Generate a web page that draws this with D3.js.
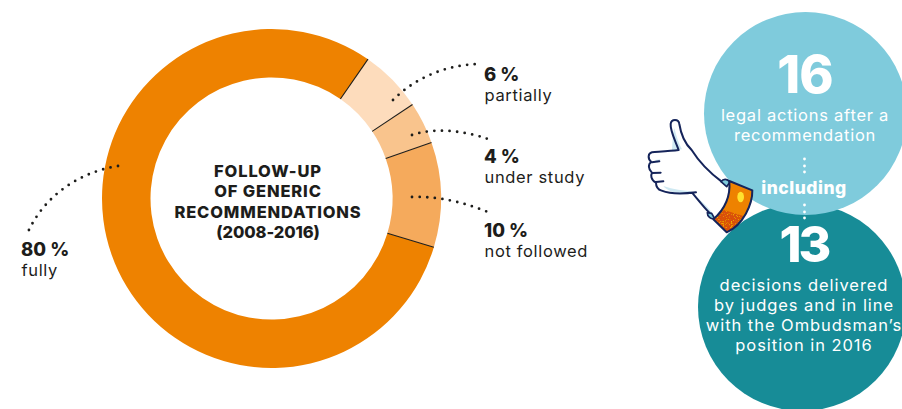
<!DOCTYPE html>
<html>
<head>
<meta charset="utf-8">
<script src="https://cdn.jsdelivr.net/npm/d3@7/dist/d3.min.js"></script>
<style>
  html, body { margin: 0; padding: 0; background: #fff; }
  svg { display: block; }
  text { font-family: Inter, "Noto Sans", sans-serif; }
</style>
</head>
<body>
<svg id="chart" width="902" height="409"></svg>
<script>
// Follow-up of generic recommendations, 2008-2016
const categories = ["partially", "under study", "not followed", "fully"];
const shares = [6, 4, 10, 80];
const sliceColors = ["#fddcbc", "#f9c48d", "#f5aa5c", "#ee8200"];
const titleLines = ["FOLLOW-UP", "OF GENERIC", "RECOMMENDATIONS", "(2008-2016)"];
const legalCount = 16;
const legalLines = ["legal actions after a", "recommendation"];
const joinWord = "including";
const decisionCount = 13;
const decisionLines = ["decisions delivered", "by judges and in line", "with the Ombudsman’s", "position in 2016"];

const svg = d3.select("#chart");
const ink = "#1d1d1b";
const navy = "#15245a";

// Speckle used on the lower part of the cuff
const speckle = svg.append("defs").append("filter").attr("id", "speckle")
  .attr("x", 0).attr("y", 0).attr("width", 1).attr("height", 1);
speckle.append("feTurbulence").attr("type", "fractalNoise").attr("baseFrequency", 0.5)
  .attr("numOctaves", 2).attr("seed", 4).attr("result", "noise");
speckle.append("feColorMatrix").attr("in", "noise").attr("type", "matrix")
  .attr("values", "0 0 0 0 0.93  0 0 0 0 0.51  0 0 0 0 0  0 0 0 -3 1.5").attr("result", "flecks");
speckle.append("feComposite").attr("in", "flecks").attr("in2", "SourceAlpha").attr("operator", "in").attr("result", "clipped");
const mergeNodes = speckle.append("feMerge");
mergeNodes.append("feMergeNode").attr("in", "SourceGraphic");
mergeNodes.append("feMergeNode").attr("in", "clipped");

// Donut
const cx = 271.5, cy = 198.5;
const pie = d3.pie().sort(null).value(d => d)
  .startAngle(34.7 * Math.PI / 180)
  .endAngle((360 + 34.7) * Math.PI / 180);
const arc = d3.arc().innerRadius(121).outerRadius(169.5);
const arcs = pie(shares);
const donut = svg.append("g").attr("transform", `translate(${cx},${cy})`);
donut.selectAll("path").data(arcs).join("path")
  .attr("d", arc)
  .attr("fill", (d, i) => sliceColors[i]);
// Thin rule on each slice boundary
const boundaries = arcs.slice(0, 4).map(d => d.startAngle);
donut.selectAll("line").data(boundaries).join("line")
  .attr("x1", a => 121 * Math.sin(a)).attr("y1", a => -121 * Math.cos(a))
  .attr("x2", a => 169.5 * Math.sin(a)).attr("y2", a => -169.5 * Math.cos(a))
  .attr("stroke", ink).attr("stroke-width", 1.1);

// Donut title; the digits of the last line sit closer together
svg.append("g").selectAll("text").data(titleLines).join("text")
  .attr("x", 268).attr("y", (d, i) => 177 + i * 20.3)
  .attr("text-anchor", "middle")
  .attr("font-size", 16.5).attr("font-weight", 800)
  .attr("letter-spacing", (d, i) => i === 3 ? -0.1 : 0.85).attr("fill", ink)
  .text(d => d);

// Dotted leaders from slices to their labels
const leaders = [
  "M393,100 C415,78 445,65 479,64",
  "M412,135 C435,127 465,131 488,139",
  "M412,197 C440,196 465,203 488,212",
  "M118,166 C80,172 45,195 28,232"
];
svg.append("g").selectAll("path").data(leaders).join("path")
  .attr("d", d => d).attr("fill", "none")
  .attr("stroke", ink).attr("stroke-width", 2.8)
  .attr("stroke-linecap", "round").attr("stroke-dasharray", "0 7.6");

// Slice labels
const labelPos = [[484, 81], [484, 163], [484, 237], [21, 256]];
const labels = svg.append("g").selectAll("g").data(categories).join("g")
  .attr("transform", (d, i) => `translate(${labelPos[i][0]},${labelPos[i][1]})`);
labels.append("text")
  .attr("font-size", 18.5).attr("font-weight", 800).attr("fill", ink)
  .text((d, i) => `${shares[i]} %`);
labels.append("text").attr("y", 20).attr("x", 0.5)
  .attr("font-size", 16.5).attr("letter-spacing", 0.65).attr("fill", ink)
  .text(d => d);

// Overlapping circles on the right
svg.append("circle").attr("cx", 802).attr("cy", 307).attr("r", 104).attr("fill", "#178c97");
svg.append("circle").attr("cx", 805.5).attr("cy", 113.5).attr("r", 101.5).attr("fill", "#7fcbdc");

const white = "#ffffff";
svg.append("text").attr("x", 805).attr("y", 93).attr("text-anchor", "middle")
  .attr("font-size", 52).attr("font-weight", 800).attr("letter-spacing", -1).attr("fill", white).text(legalCount);
svg.append("g").selectAll("text").data(legalLines).join("text")
  .attr("x", 805).attr("y", (d, i) => 121 + i * 20)
  .attr("text-anchor", "middle").attr("font-size", 16.5).attr("letter-spacing", 0.75).attr("fill", white).text(d => d);
svg.append("text").attr("x", 804).attr("y", 194).attr("text-anchor", "middle")
  .attr("font-size", 17.5).attr("font-weight", 800).attr("letter-spacing", 0.5).attr("fill", white).text(joinWord);
svg.append("text").attr("x", 804).attr("y", 262).attr("text-anchor", "middle")
  .attr("font-size", 50).attr("font-weight", 800).attr("letter-spacing", -3).attr("fill", white).text(decisionCount);
svg.append("g").selectAll("text").data(decisionLines).join("text")
  .attr("x", 804).attr("y", (d, i) => 291 + i * 20)
  .attr("text-anchor", "middle").attr("font-size", 16.5).attr("letter-spacing", 0.95).attr("fill", white).text(d => d);

// Small dots linking the two circles through the connecting word
const linkDots = [159, 166, 172, 205, 212, 218];
svg.append("g").selectAll("circle").data(linkDots).join("circle")
  .attr("cx", 804.5).attr("cy", d => d).attr("r", 1.4).attr("fill", white);

// Thumbs-up illustration, drawn at three times its size and scaled down
const hand = svg.append("g").attr("transform", "translate(620,100) scale(0.3333)");
hand.append("path")
  .attr("d", "M176,150 C166,122 150,92 152,72 C154,56 176,56 178,72 C182,98 192,128 215,150 C240,190 265,215 305,245 L330,300 L285,350 C262,325 240,300 218,280 C190,282 150,282 125,272 C112,268 108,258 108,248 C92,240 92,225 96,218 C84,208 84,192 94,186 C82,176 84,160 96,157 Z")
  .attr("fill", white);
hand.append("path")
  .attr("d", "M156,150 C158,125 158,100 163,85 C170,110 175,130 186,148 Z M105,180 L122,178 L112,188 Z M130,258 C160,268 190,272 218,274 L190,280 C165,280 140,272 130,258 Z M222,284 C240,300 270,325 285,350 L268,335 C250,320 235,300 222,284 Z")
  .attr("fill", "#cfe9f2");
hand.append("path")
  .attr("d", "M176,150 C166,122 150,92 152,72 C154,56 176,56 178,72 C182,98 192,128 215,150 C240,190 265,215 305,245 M176,150 C150,153 120,155 96,157 C84,160 82,176 94,186 C84,192 84,208 96,218 C92,225 92,240 108,248 C108,258 112,268 125,272 C150,282 190,282 228,277 M96,187 L118,184 M96,219 L122,218 M108,246 L130,244 M218,280 C235,300 250,320 268,338")
  .attr("fill", "none").attr("stroke", navy).attr("stroke-width", 6).attr("stroke-linecap", "round").attr("stroke-linejoin", "round");
// Shirt cuff
hand.append("path")
  .attr("d", "M303,245 C310,235 322,236 330,246 L320,260 Z M262,338 C262,350 272,358 284,356 L275,340 Z")
  .attr("fill", "#7fcbdc").attr("stroke", navy).attr("stroke-width", 5).attr("stroke-linejoin", "round");
hand.append("path")
  .attr("d", "M328,243 L397,271 C398,312 370,375 320,397 L280,358 C312,330 332,290 328,243 Z")
  .attr("fill", "#ee8200");
hand.append("path")
  .attr("d", "M312,330 L372,349 C360,370 342,388 320,397 L280,358 C292,350 303,340 312,330 Z")
  .attr("fill", "#d9500a").attr("filter", "url(#speckle)");
hand.append("path")
  .attr("d", "M328,243 L397,271 C398,312 370,375 320,397 L280,358 C312,330 332,290 328,243 Z")
  .attr("fill", "none").attr("stroke", navy).attr("stroke-width", 6).attr("stroke-linejoin", "round");
hand.append("ellipse").attr("cx", 362).attr("cy", 291).attr("rx", 10).attr("ry", 16)
  .attr("fill", "#ffe22e");
</script>
</body>
</html>
